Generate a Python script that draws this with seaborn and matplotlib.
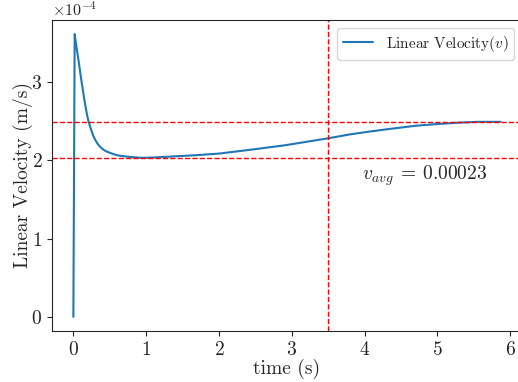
import matplotlib
matplotlib.use("Agg")
import matplotlib.pyplot as plt
import seaborn as sns
import numpy as np
import pandas as pd

# time (s)
time_s = [0.0, 0.018, 0.03, 0.05, 0.07, 0.09, 0.11, 0.13, 0.15, 0.17, 0.19, 0.21,
          0.24, 0.27, 0.30, 0.34, 0.38, 0.42, 0.46, 0.50, 0.56, 0.62, 0.70, 0.80,
          0.95, 1.10, 1.40, 1.70, 2.00, 2.40, 2.90, 3.50, 3.80, 4.10, 4.35, 4.70,
          5.04, 5.30, 5.55, 5.87]
# linear velocity (x1e-4 m/s)
velocity_e4 = [0.0, 3.61, 3.53, 3.40, 3.28, 3.15, 3.02, 2.90, 2.78, 2.67, 2.57, 2.49,
               2.40, 2.32, 2.26, 2.20, 2.16, 2.13, 2.11, 2.095, 2.075, 2.06, 2.05, 2.04,
               2.03, 2.035, 2.05, 2.065, 2.085, 2.13, 2.19, 2.28, 2.33, 2.37, 2.40, 2.44,
               2.465, 2.48, 2.49, 2.49]
upper_line = 2.49e-4
lower_line = 2.03e-4
vline_t = 3.5
avg_label = r"$v_{avg}\:=\:0.00023$"
avg_pos = (3.97, 1.75e-4)

df = pd.DataFrame({"t": time_s, "v": np.array(velocity_e4) * 1e-4})

sns.set_style("ticks")
plt.rcParams["font.family"] = ["cmr10", "DejaVu Serif"]
plt.rcParams["mathtext.fontset"] = "cm"
plt.rcParams["axes.formatter.use_mathtext"] = True
plt.rcParams["axes.unicode_minus"] = True

fig = plt.figure(figsize=(5.18, 3.82), dpi=100)
ax = fig.add_axes([52/518, 1-331/382, (522-52)/518, (331-20)/382])

sns.lineplot(data=df, x="t", y="v", ax=ax, color="#1f77b4", linewidth=1.5,
             label=r"Linear Velocity$(v)$")
ax.axhline(upper_line, color="red", linestyle="--", linewidth=1)
ax.axhline(lower_line, color="red", linestyle="--", linewidth=1)
ax.axvline(vline_t, color="red", linestyle="--", linewidth=1)
ax.text(avg_pos[0], avg_pos[1], avg_label, fontsize=14)

ax.set_xlabel("time (s)", fontsize=14, labelpad=0)
ax.set_ylabel("Linear Velocity (m/s)", fontsize=14, labelpad=-1)
ax.tick_params(labelsize=14)
ax.ticklabel_format(axis="y", style="sci", scilimits=(0, 0))
ax.yaxis.get_offset_text().set_fontsize(11.5)
ax.set_xticks([0, 1, 2, 3, 4, 5, 6])
ax.set_yticks([0, 1e-4, 2e-4, 3e-4])
ax.legend(loc="upper right", fontsize=11, handlelength=2.0)

fig.savefig("out.png", dpi=100)
